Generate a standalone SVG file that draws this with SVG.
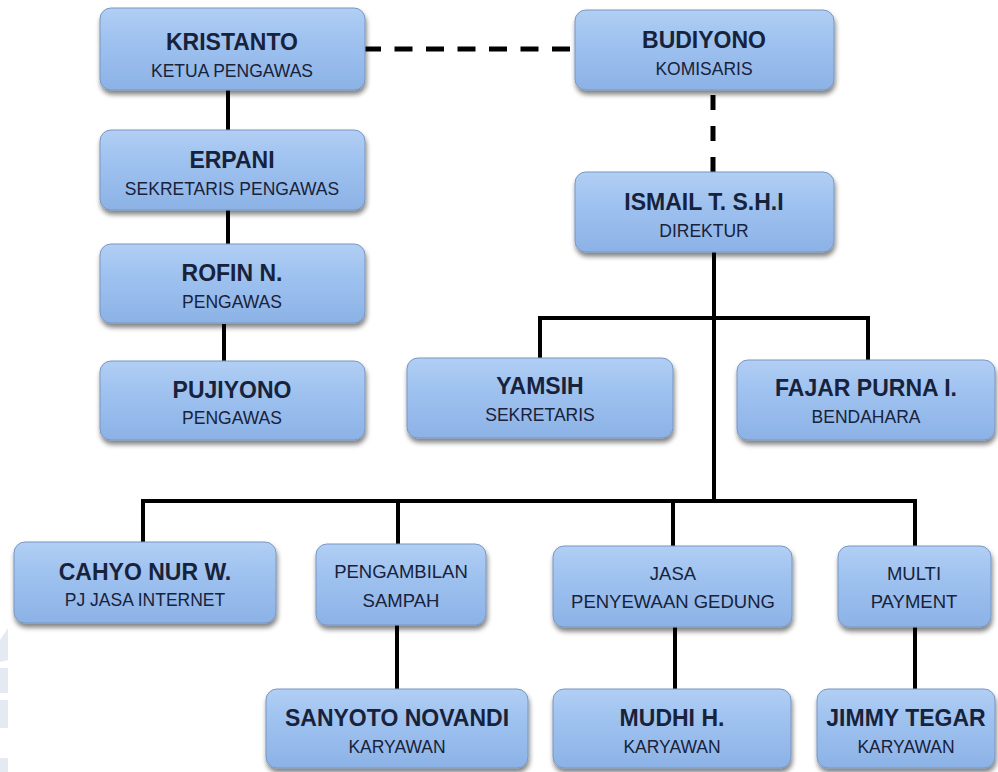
<svg xmlns="http://www.w3.org/2000/svg" width="998" height="772" viewBox="0 0 998 772">
<defs>
<linearGradient id="g" x1="0" y1="0" x2="0" y2="1">
<stop offset="0" stop-color="#b2cff4"/>
<stop offset="0.35" stop-color="#a0c3f0"/>
<stop offset="1" stop-color="#8cb2e6"/>
</linearGradient>
<filter id="sh" x="-10%" y="-10%" width="120%" height="135%">
<feGaussianBlur in="SourceAlpha" stdDeviation="2.5"/>
<feOffset dx="1" dy="4" result="b"/>
<feComponentTransfer><feFuncA type="linear" slope="0.5"/></feComponentTransfer>
<feMerge><feMergeNode/><feMergeNode in="SourceGraphic"/></feMerge>
</filter>
</defs>
<style>
.box{fill:url(#g);stroke:#7896c0;stroke-width:1;filter:url(#sh)}
.n{font-family:"Liberation Sans",Arial,sans-serif;font-weight:bold;font-size:23px;fill:#18223a;text-anchor:middle}
.s{font-family:"Liberation Sans",Arial,sans-serif;font-size:17.5px;fill:#18223a;text-anchor:middle}
.c{font-family:"Liberation Sans",Arial,sans-serif;font-size:18.5px;fill:#18223a;text-anchor:middle}
.ln{stroke:#000;stroke-width:4;fill:none}
.d1{stroke:#000;stroke-width:5;fill:none;stroke-dasharray:18 13.5}
.d2{stroke:#000;stroke-width:5;fill:none;stroke-dasharray:15 16}
.wm{fill:#e4e9f2}
</style>
<rect width="998" height="772" fill="#ffffff"/>
<g id="watermark">
<polygon class="wm" points="0,640 8,628 8,660 0,662"/>
<rect class="wm" x="0" y="668" width="8" height="25"/>
<rect class="wm" x="0" y="700" width="8" height="28"/>
<rect class="wm" x="0" y="758" width="8" height="14"/>
</g>
<g id="connectors">
<line class="ln" x1="228" y1="88" x2="228" y2="131"/>
<line class="ln" x1="228" y1="208" x2="228" y2="245"/>
<line class="ln" x1="224" y1="324" x2="224" y2="362"/>
<line class="d1" x1="363" y1="49" x2="571" y2="49"/>
<line class="d2" x1="713" y1="95" x2="713" y2="172"/>
<line class="ln" x1="714" y1="250" x2="714" y2="503"/>
<polyline class="ln" points="540,359 540,318 868,318 868,361"/>
<polyline class="ln" points="143,543 143,501 915,501 915,547"/>
<line class="ln" x1="398" y1="501" x2="398" y2="545"/>
<line class="ln" x1="673" y1="501" x2="673" y2="547"/>
<line class="ln" x1="397" y1="623" x2="397" y2="690"/>
<line class="ln" x1="675" y1="625" x2="675" y2="690"/>
<line class="ln" x1="915" y1="625" x2="915" y2="690"/>
</g>
<g id="kristanto"><rect class="box" x="100" y="8" width="265" height="82" rx="11"/><text class="n" x="232" y="50">KRISTANTO</text><text class="s" x="232" y="77">KETUA PENGAWAS</text></g>
<g id="budiyono"><rect class="box" x="575" y="10" width="259" height="80" rx="11"/><text class="n" x="704" y="48">BUDIYONO</text><text class="s" x="704" y="75">KOMISARIS</text></g>
<g id="erpani"><rect class="box" x="100" y="130" width="265" height="80" rx="11"/><text class="n" x="232" y="168">ERPANI</text><text class="s" x="232" y="195">SEKRETARIS PENGAWAS</text></g>
<g id="ismail"><rect class="box" x="575" y="172" width="259" height="80" rx="11"/><text class="n" x="704" y="210">ISMAIL T. S.H.I</text><text class="s" x="704" y="237">DIREKTUR</text></g>
<g id="rofin"><rect class="box" x="100" y="244" width="265" height="79" rx="11"/><text class="n" x="232" y="281">ROFIN N.</text><text class="s" x="232" y="308">PENGAWAS</text></g>
<g id="pujiyono"><rect class="box" x="100" y="361" width="265" height="79" rx="11"/><text class="n" x="232" y="398">PUJIYONO</text><text class="s" x="232" y="424">PENGAWAS</text></g>
<g id="yamsih"><rect class="box" x="407" y="358" width="266" height="80" rx="11"/><text class="n" x="540" y="394">YAMSIH</text><text class="s" x="540" y="421">SEKRETARIS</text></g>
<g id="fajar"><rect class="box" x="737" y="360" width="258" height="80" rx="11"/><text class="n" x="866" y="396">FAJAR PURNA I.</text><text class="s" x="866" y="423">BENDAHARA</text></g>
<g id="cahyo"><rect class="box" x="14" y="542" width="262" height="81" rx="11"/><text class="n" x="145" y="580">CAHYO NUR W.</text><text class="s" x="145" y="606">PJ JASA INTERNET</text></g>
<g id="pengambilan"><rect class="box" x="316" y="544" width="170" height="81" rx="11"/><text class="c" x="401" y="578">PENGAMBILAN</text><text class="c" x="401" y="607">SAMPAH</text></g>
<g id="jasa"><rect class="box" x="553" y="546" width="239" height="81" rx="11"/><text class="c" x="673" y="580">JASA</text><text class="c" x="673" y="608">PENYEWAAN GEDUNG</text></g>
<g id="multi"><rect class="box" x="838" y="546" width="153" height="81" rx="11"/><text class="c" x="914" y="580">MULTI</text><text class="c" x="914" y="608">PAYMENT</text></g>
<g id="sanyoto"><rect class="box" x="266" y="689" width="262" height="79" rx="11"/><text class="n" x="397" y="726">SANYOTO NOVANDI</text><text class="s" x="397" y="753">KARYAWAN</text></g>
<g id="mudhi"><rect class="box" x="553" y="689" width="238" height="79" rx="11"/><text class="n" x="672" y="726">MUDHI H.</text><text class="s" x="672" y="753">KARYAWAN</text></g>
<g id="jimmy"><rect class="box" x="817" y="689" width="178" height="79" rx="11"/><text class="n" x="906" y="726">JIMMY TEGAR</text><text class="s" x="906" y="753">KARYAWAN</text></g>
</svg>
